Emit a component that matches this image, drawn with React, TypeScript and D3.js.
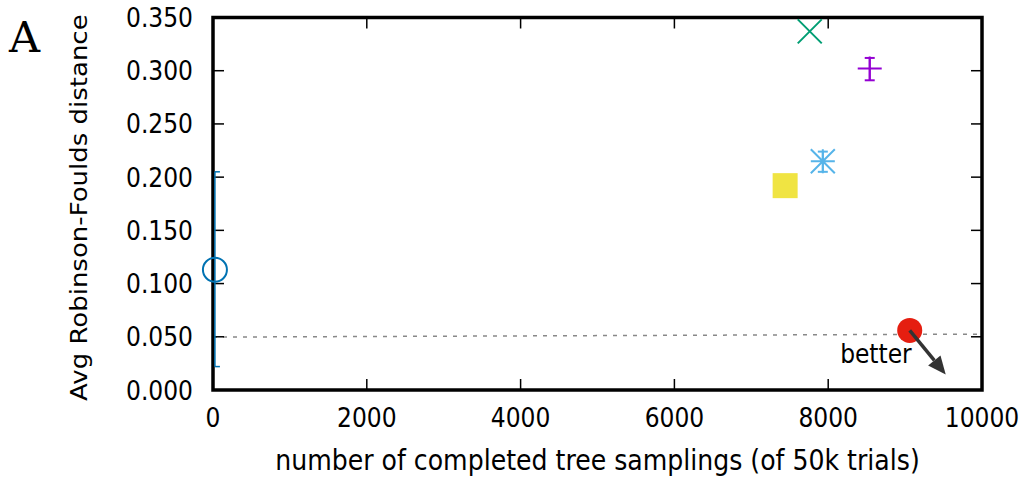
import * as React from 'react';
import * as d3 from 'd3';

// data
const methods = ['circle', 'cross', 'plus', 'star', 'square', 'dot'];
const colours = ['#0072B2', '#009E73', '#9400D3', '#56B4E9', '#F0E442', '#E51E10'];
const completed = [25, 7760, 8540, 7930, 7440, 9060];
const avgRF = [0.113, 0.337, 0.302, 0.215, 0.192, 0.056];
const rfLow = [0.022, null, 0.291, 0.205, null, null];
const rfHigh = [0.205, null, 0.312, 0.224, null, null];
const xTicks = [0, 2000, 4000, 6000, 8000, 10000];
const yTicks = [0, 0.05, 0.1, 0.15, 0.2, 0.25, 0.3, 0.35];
const refLineX = [0, 10000];
const refLineY = [0.0497, 0.0525];

const W = 1030, H = 479;
const FONT = '"DejaVu Sans", sans-serif';
const SX = 0.9; // the picture is squeezed a bit horizontally

function Txt(props: any) {
    const {x, y, anchor, size, children} = props;
    return (
        <text transform={`translate(${x},${y}) scale(${SX},1)`} textAnchor={anchor || 'start'}
              fontFamily={FONT} fontSize={size || 26} fill="#000">
            {children}
        </text>
    );
}

function Marker(props: any) {
    const {kind, cx, cy, colour} = props;
    const s = 12;
    if (kind === 'circle') {
        return <circle cx={cx} cy={cy} r={12} fill="none" stroke={colour} strokeWidth={2}/>;
    }
    if (kind === 'dot') {
        return <circle cx={cx} cy={cy} r={12.5} fill={colour}/>;
    }
    if (kind === 'square') {
        return <rect x={cx - 12.5} y={cy - 12.5} width={25} height={25} fill={colour}/>;
    }
    let d = '';
    if (kind === 'cross' || kind === 'star') {
        d += `M${cx - s},${cy - s}L${cx + s},${cy + s}M${cx - s},${cy + s}L${cx + s},${cy - s}`;
    }
    if (kind === 'plus' || kind === 'star') {
        d += `M${cx - s},${cy}L${cx + s},${cy}M${cx},${cy - s}L${cx},${cy + s}`;
    }
    return <path d={d} fill="none" stroke={colour} strokeWidth={2}/>;
}

export default function App() {
    const margin = {left: 213, right: W - 982, top: 17.5, bottom: H - 390};
    const x = d3.scaleLinear().domain([0, 10000]).range([margin.left, W - margin.right]);
    const y = d3.scaleLinear().domain([0, 0.35]).range([H - margin.bottom, margin.top]);
    const fmt = d3.format('.3f');
    const tickLen = 11;

    const refLine = d3.line<number>()
        .x(function(d, i) {return x(refLineX[i]);})
        .y(function(d) {return y(d);});

    const dotI = methods.indexOf('dot');
    const ax = x(completed[dotI]), ay = y(avgRF[dotI]);
    const tipX = ax + 36, tipY = ay + 44;
    const ang = Math.atan2(tipY - ay, tipX - ax);
    const hl = 18, hw = 8;
    const bx = tipX - hl * Math.cos(ang), by = tipY - hl * Math.sin(ang);
    const head = `M${tipX},${tipY}L${bx - hw * Math.sin(ang)},${by + hw * Math.cos(ang)}L${bx + hw * Math.sin(ang)},${by - hw * Math.cos(ang)}Z`;

    return (
        <svg width={W} height={H} style={{position: 'absolute', left: 0, top: 0, background: '#fff'}}>
            <rect width={W} height={H} fill="#fff"/>

            {/* reference line */}
            <path d={refLine(refLineY) || ''} fill="none" stroke="#888" strokeWidth={1.5} strokeDasharray="4,6"/>

            {/* ticks on all four sides */}
            {xTicks.map(t => (
                <g key={'xt' + t}>
                    <line x1={x(t)} x2={x(t)} y1={y(0)} y2={y(0) - tickLen} stroke="#000" strokeWidth={1.5}/>
                    <line x1={x(t)} x2={x(t)} y1={y(0.35)} y2={y(0.35) + tickLen} stroke="#000" strokeWidth={1.5}/>
                    <Txt x={x(t)} y={y(0) + 37} anchor="middle">{String(t)}</Txt>
                </g>
            ))}
            {yTicks.map(t => (
                <g key={'yt' + t}>
                    <line x1={x(0)} x2={x(0) + tickLen} y1={y(t)} y2={y(t)} stroke="#000" strokeWidth={1.5}/>
                    <line x1={x(10000)} x2={x(10000) - tickLen} y1={y(t)} y2={y(t)} stroke="#000" strokeWidth={1.5}/>
                    <Txt x={x(0) - 20} y={y(t) + 9.5} anchor="end">{fmt(t)}</Txt>
                </g>
            ))}

            {/* border */}
            <rect x={x(0)} y={y(0.35)} width={x(10000) - x(0)} height={y(0) - y(0.35)}
                  fill="none" stroke="#000" strokeWidth={3.5}/>

            {/* error bars */}
            {methods.map((m, i) => {
                if (rfLow[i] == null) return null;
                const cx = x(completed[i]);
                const cap = 5;
                const c0 = m === 'circle' ? cx : cx - cap;
                const c1 = cx + cap;
                return (
                    <g key={'err' + m} stroke={colours[i]} strokeWidth={m === 'circle' ? 1.5 : 2}>
                        <line x1={cx} x2={cx} y1={y(rfLow[i] as number)} y2={y(rfHigh[i] as number)}/>
                        <line x1={c0} x2={c1} y1={y(rfLow[i] as number)} y2={y(rfLow[i] as number)}/>
                        <line x1={c0} x2={c1} y1={y(rfHigh[i] as number)} y2={y(rfHigh[i] as number)}/>
                    </g>
                );
            })}

            {/* markers */}
            {methods.map((m, i) => (
                <Marker key={m} kind={m} cx={x(completed[i])} cy={y(avgRF[i])} colour={colours[i]}/>
            ))}

            {/* better arrow */}
            <line x1={ax} x2={bx} y1={ay} y2={by} stroke="#333" strokeWidth={3.5}/>
            <path d={head} fill="#333"/>
            <Txt x={ax + 2} y={ay + 33} anchor="end">better</Txt>

            {/* axis titles */}
            <Txt x={(x(0) + x(10000)) / 2} y={H - 9} anchor="middle" size={28}>number of completed tree samplings (of 50k trials)</Txt>
            <text transform={`translate(87,401) rotate(-90) scale(1,${SX})`} fontFamily={FONT} fontSize={26}>
                Avg Robinson-Foulds distance
            </text>
            <text x={9} y={52} fontFamily='"DejaVu Serif", "Liberation Serif", serif' fontSize={43}>A</text>
        </svg>
    );
}
